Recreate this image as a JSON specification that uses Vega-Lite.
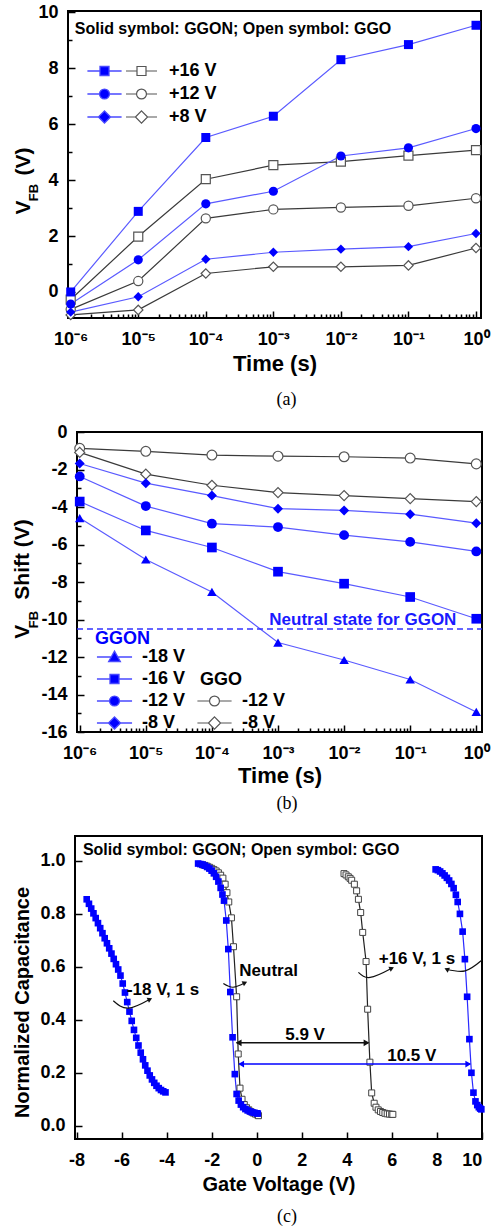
{
"$schema": "https://vega.github.io/schema/vega-lite/v6.json",
"padding": {"left": 11, "top": 2, "right": 0, "bottom": 0},
"datasets": {
"a": [
{"t":1e-6,"v":0.0,"film":"GGON","bias":"+16 V"},{"t":1e-5,"v":2.88,"film":"GGON","bias":"+16 V"},{"t":1e-4,"v":5.52,"film":"GGON","bias":"+16 V"},{"t":1e-3,"v":6.28,"film":"GGON","bias":"+16 V"},{"t":1e-2,"v":8.3,"film":"GGON","bias":"+16 V"},{"t":1e-1,"v":8.84,"film":"GGON","bias":"+16 V"},{"t":1,"v":9.53,"film":"GGON","bias":"+16 V"},
{"t":1e-6,"v":-0.27,"film":"GGO","bias":"+16 V"},{"t":1e-5,"v":1.98,"film":"GGO","bias":"+16 V"},{"t":1e-4,"v":4.03,"film":"GGO","bias":"+16 V"},{"t":1e-3,"v":4.53,"film":"GGO","bias":"+16 V"},{"t":1e-2,"v":4.66,"film":"GGO","bias":"+16 V"},{"t":1e-1,"v":4.87,"film":"GGO","bias":"+16 V"},{"t":1,"v":5.07,"film":"GGO","bias":"+16 V"},
{"t":1e-6,"v":-0.43,"film":"GGON","bias":"+12 V"},{"t":1e-5,"v":1.15,"film":"GGON","bias":"+12 V"},{"t":1e-4,"v":3.15,"film":"GGON","bias":"+12 V"},{"t":1e-3,"v":3.6,"film":"GGON","bias":"+12 V"},{"t":1e-2,"v":4.86,"film":"GGON","bias":"+12 V"},{"t":1e-1,"v":5.15,"film":"GGON","bias":"+12 V"},{"t":1,"v":5.84,"film":"GGON","bias":"+12 V"},
{"t":1e-6,"v":-0.62,"film":"GGO","bias":"+12 V"},{"t":1e-5,"v":0.39,"film":"GGO","bias":"+12 V"},{"t":1e-4,"v":2.63,"film":"GGO","bias":"+12 V"},{"t":1e-3,"v":2.95,"film":"GGO","bias":"+12 V"},{"t":1e-2,"v":3.02,"film":"GGO","bias":"+12 V"},{"t":1e-1,"v":3.08,"film":"GGO","bias":"+12 V"},{"t":1,"v":3.35,"film":"GGO","bias":"+12 V"},
{"t":1e-6,"v":-0.72,"film":"GGON","bias":"+8 V"},{"t":1e-5,"v":-0.17,"film":"GGON","bias":"+8 V"},{"t":1e-4,"v":1.17,"film":"GGON","bias":"+8 V"},{"t":1e-3,"v":1.42,"film":"GGON","bias":"+8 V"},{"t":1e-2,"v":1.53,"film":"GGON","bias":"+8 V"},{"t":1e-1,"v":1.62,"film":"GGON","bias":"+8 V"},{"t":1,"v":2.09,"film":"GGON","bias":"+8 V"},
{"t":1e-6,"v":-0.82,"film":"GGO","bias":"+8 V"},{"t":1e-5,"v":-0.64,"film":"GGO","bias":"+8 V"},{"t":1e-4,"v":0.66,"film":"GGO","bias":"+8 V"},{"t":1e-3,"v":0.9,"film":"GGO","bias":"+8 V"},{"t":1e-2,"v":0.9,"film":"GGO","bias":"+8 V"},{"t":1e-1,"v":0.95,"film":"GGO","bias":"+8 V"},{"t":1,"v":1.57,"film":"GGO","bias":"+8 V"}
],
"b": [
{"t":1e-6,"v":-0.87,"film":"GGO","bias":"-12 V"},{"t":1e-5,"v":-1.03,"film":"GGO","bias":"-12 V"},{"t":1e-4,"v":-1.23,"film":"GGO","bias":"-12 V"},{"t":1e-3,"v":-1.29,"film":"GGO","bias":"-12 V"},{"t":1e-2,"v":-1.32,"film":"GGO","bias":"-12 V"},{"t":1e-1,"v":-1.39,"film":"GGO","bias":"-12 V"},{"t":1,"v":-1.7,"film":"GGO","bias":"-12 V"},
{"t":1e-6,"v":-1.09,"film":"GGO","bias":"-8 V"},{"t":1e-5,"v":-2.25,"film":"GGO","bias":"-8 V"},{"t":1e-4,"v":-2.84,"film":"GGO","bias":"-8 V"},{"t":1e-3,"v":-3.23,"film":"GGO","bias":"-8 V"},{"t":1e-2,"v":-3.39,"film":"GGO","bias":"-8 V"},{"t":1e-1,"v":-3.55,"film":"GGO","bias":"-8 V"},{"t":1,"v":-3.71,"film":"GGO","bias":"-8 V"},
{"t":1e-6,"v":-1.68,"film":"GGON","bias":"-8 V"},{"t":1e-5,"v":-2.73,"film":"GGON","bias":"-8 V"},{"t":1e-4,"v":-3.39,"film":"GGON","bias":"-8 V"},{"t":1e-3,"v":-4.09,"film":"GGON","bias":"-8 V"},{"t":1e-2,"v":-4.18,"film":"GGON","bias":"-8 V"},{"t":1e-1,"v":-4.38,"film":"GGON","bias":"-8 V"},{"t":1,"v":-4.86,"film":"GGON","bias":"-8 V"},
{"t":1e-6,"v":-2.37,"film":"GGON","bias":"-12 V"},{"t":1e-5,"v":-3.95,"film":"GGON","bias":"-12 V"},{"t":1e-4,"v":-4.89,"film":"GGON","bias":"-12 V"},{"t":1e-3,"v":-5.07,"film":"GGON","bias":"-12 V"},{"t":1e-2,"v":-5.5,"film":"GGON","bias":"-12 V"},{"t":1e-1,"v":-5.86,"film":"GGON","bias":"-12 V"},{"t":1,"v":-6.37,"film":"GGON","bias":"-12 V"},
{"t":1e-6,"v":-3.71,"film":"GGON","bias":"-16 V"},{"t":1e-5,"v":-5.25,"film":"GGON","bias":"-16 V"},{"t":1e-4,"v":-6.16,"film":"GGON","bias":"-16 V"},{"t":1e-3,"v":-7.45,"film":"GGON","bias":"-16 V"},{"t":1e-2,"v":-8.09,"film":"GGON","bias":"-16 V"},{"t":1e-1,"v":-8.8,"film":"GGON","bias":"-16 V"},{"t":1,"v":-9.96,"film":"GGON","bias":"-16 V"},
{"t":1e-6,"v":-4.59,"film":"GGON","bias":"-18 V"},{"t":1e-5,"v":-6.8,"film":"GGON","bias":"-18 V"},{"t":1e-4,"v":-8.53,"film":"GGON","bias":"-18 V"},{"t":1e-3,"v":-11.23,"film":"GGON","bias":"-18 V"},{"t":1e-2,"v":-12.16,"film":"GGON","bias":"-18 V"},{"t":1e-1,"v":-13.2,"film":"GGON","bias":"-18 V"},{"t":1,"v":-14.93,"film":"GGON","bias":"-18 V"}
],
"c": [
{"vg":-7.55,"c":0.855,"film":"GGON","curve":"n18"},{"vg":-7.45,"c":0.838,"film":"GGON","curve":"n18"},{"vg":-7.35,"c":0.82,"film":"GGON","curve":"n18"},{"vg":-7.25,"c":0.802,"film":"GGON","curve":"n18"},{"vg":-7.15,"c":0.784,"film":"GGON","curve":"n18"},{"vg":-7.05,"c":0.765,"film":"GGON","curve":"n18"},{"vg":-6.95,"c":0.746,"film":"GGON","curve":"n18"},{"vg":-6.85,"c":0.727,"film":"GGON","curve":"n18"},{"vg":-6.75,"c":0.708,"film":"GGON","curve":"n18"},{"vg":-6.65,"c":0.689,"film":"GGON","curve":"n18"},{"vg":-6.55,"c":0.67,"film":"GGON","curve":"n18"},{"vg":-6.45,"c":0.65,"film":"GGON","curve":"n18"},{"vg":-6.35,"c":0.63,"film":"GGON","curve":"n18"},{"vg":-6.25,"c":0.61,"film":"GGON","curve":"n18"},{"vg":-6.15,"c":0.59,"film":"GGON","curve":"n18"},{"vg":-6.05,"c":0.567,"film":"GGON","curve":"n18"},{"vg":-5.95,"c":0.537,"film":"GGON","curve":"n18"},{"vg":-5.85,"c":0.503,"film":"GGON","curve":"n18"},{"vg":-5.75,"c":0.467,"film":"GGON","curve":"n18"},{"vg":-5.65,"c":0.431,"film":"GGON","curve":"n18"},{"vg":-5.55,"c":0.396,"film":"GGON","curve":"n18"},{"vg":-5.45,"c":0.362,"film":"GGON","curve":"n18"},{"vg":-5.35,"c":0.332,"film":"GGON","curve":"n18"},{"vg":-5.25,"c":0.303,"film":"GGON","curve":"n18"},{"vg":-5.15,"c":0.276,"film":"GGON","curve":"n18"},{"vg":-5.05,"c":0.251,"film":"GGON","curve":"n18"},{"vg":-4.95,"c":0.228,"film":"GGON","curve":"n18"},{"vg":-4.85,"c":0.208,"film":"GGON","curve":"n18"},{"vg":-4.75,"c":0.19,"film":"GGON","curve":"n18"},{"vg":-4.65,"c":0.175,"film":"GGON","curve":"n18"},{"vg":-4.55,"c":0.162,"film":"GGON","curve":"n18"},{"vg":-4.45,"c":0.151,"film":"GGON","curve":"n18"},{"vg":-4.35,"c":0.142,"film":"GGON","curve":"n18"},{"vg":-4.25,"c":0.135,"film":"GGON","curve":"n18"},{"vg":-4.15,"c":0.13,"film":"GGON","curve":"n18"},{"vg":-4.05,"c":0.126,"film":"GGON","curve":"n18"},
{"vg":-2.6,"c":0.99,"film":"GGON","curve":"n0on"},{"vg":-2.5,"c":0.988,"film":"GGON","curve":"n0on"},{"vg":-2.4,"c":0.986,"film":"GGON","curve":"n0on"},{"vg":-2.3,"c":0.982,"film":"GGON","curve":"n0on"},{"vg":-2.2,"c":0.977,"film":"GGON","curve":"n0on"},{"vg":-2.1,"c":0.971,"film":"GGON","curve":"n0on"},{"vg":-2.0,"c":0.963,"film":"GGON","curve":"n0on"},{"vg":-1.9,"c":0.953,"film":"GGON","curve":"n0on"},{"vg":-1.8,"c":0.94,"film":"GGON","curve":"n0on"},{"vg":-1.7,"c":0.922,"film":"GGON","curve":"n0on"},{"vg":-1.6,"c":0.898,"film":"GGON","curve":"n0on"},{"vg":-1.52,"c":0.873,"film":"GGON","curve":"n0on"},{"vg":-1.45,"c":0.85,"film":"GGON","curve":"n0on"},{"vg":-1.35,"c":0.775,"film":"GGON","curve":"n0on"},{"vg":-1.26,"c":0.667,"film":"GGON","curve":"n0on"},{"vg":-1.17,"c":0.505,"film":"GGON","curve":"n0on"},{"vg":-1.07,"c":0.334,"film":"GGON","curve":"n0on"},{"vg":-0.97,"c":0.195,"film":"GGON","curve":"n0on"},{"vg":-0.89,"c":0.12,"film":"GGON","curve":"n0on"},{"vg":-0.8,"c":0.095,"film":"GGON","curve":"n0on"},{"vg":-0.7,"c":0.08,"film":"GGON","curve":"n0on"},{"vg":-0.6,"c":0.07,"film":"GGON","curve":"n0on"},{"vg":-0.5,"c":0.063,"film":"GGON","curve":"n0on"},{"vg":-0.4,"c":0.058,"film":"GGON","curve":"n0on"},{"vg":-0.3,"c":0.054,"film":"GGON","curve":"n0on"},{"vg":-0.2,"c":0.051,"film":"GGON","curve":"n0on"},{"vg":-0.1,"c":0.049,"film":"GGON","curve":"n0on"},{"vg":0.0,"c":0.047,"film":"GGON","curve":"n0on"},{"vg":0.05,"c":0.046,"film":"GGON","curve":"n0on"},
{"vg":-2.4,"c":0.985,"film":"GGO","curve":"n0o"},{"vg":-2.3,"c":0.983,"film":"GGO","curve":"n0o"},{"vg":-2.2,"c":0.98,"film":"GGO","curve":"n0o"},{"vg":-2.1,"c":0.976,"film":"GGO","curve":"n0o"},{"vg":-2.0,"c":0.972,"film":"GGO","curve":"n0o"},{"vg":-1.9,"c":0.967,"film":"GGO","curve":"n0o"},{"vg":-1.8,"c":0.962,"film":"GGO","curve":"n0o"},{"vg":-1.7,"c":0.955,"film":"GGO","curve":"n0o"},{"vg":-1.6,"c":0.946,"film":"GGO","curve":"n0o"},{"vg":-1.5,"c":0.935,"film":"GGO","curve":"n0o"},{"vg":-1.4,"c":0.912,"film":"GGO","curve":"n0o"},{"vg":-1.32,"c":0.88,"film":"GGO","curve":"n0o"},{"vg":-1.24,"c":0.845,"film":"GGO","curve":"n0o"},{"vg":-1.12,"c":0.785,"film":"GGO","curve":"n0o"},{"vg":-1.03,"c":0.676,"film":"GGO","curve":"n0o"},{"vg":-0.89,"c":0.487,"film":"GGO","curve":"n0o"},{"vg":-0.82,"c":0.271,"film":"GGO","curve":"n0o"},{"vg":-0.74,"c":0.142,"film":"GGO","curve":"n0o"},{"vg":-0.65,"c":0.1,"film":"GGO","curve":"n0o"},{"vg":-0.55,"c":0.08,"film":"GGO","curve":"n0o"},{"vg":-0.45,"c":0.068,"film":"GGO","curve":"n0o"},{"vg":-0.35,"c":0.06,"film":"GGO","curve":"n0o"},{"vg":-0.25,"c":0.053,"film":"GGO","curve":"n0o"},{"vg":-0.15,"c":0.048,"film":"GGO","curve":"n0o"},{"vg":-0.05,"c":0.044,"film":"GGO","curve":"n0o"},{"vg":0.05,"c":0.04,"film":"GGO","curve":"n0o"},{"vg":0.08,"c":0.038,"film":"GGO","curve":"n0o"},
{"vg":3.88,"c":0.952,"film":"GGO","curve":"p16o"},{"vg":3.97,"c":0.947,"film":"GGO","curve":"p16o"},{"vg":4.07,"c":0.94,"film":"GGO","curve":"p16o"},{"vg":4.15,"c":0.934,"film":"GGO","curve":"p16o"},{"vg":4.22,"c":0.927,"film":"GGO","curve":"p16o"},{"vg":4.34,"c":0.912,"film":"GGO","curve":"p16o"},{"vg":4.44,"c":0.887,"film":"GGO","curve":"p16o"},{"vg":4.52,"c":0.855,"film":"GGO","curve":"p16o"},{"vg":4.62,"c":0.805,"film":"GGO","curve":"p16o"},{"vg":4.71,"c":0.73,"film":"GGO","curve":"p16o"},{"vg":4.86,"c":0.62,"film":"GGO","curve":"p16o"},{"vg":4.93,"c":0.44,"film":"GGO","curve":"p16o"},{"vg":5.03,"c":0.24,"film":"GGO","curve":"p16o"},{"vg":5.11,"c":0.124,"film":"GGO","curve":"p16o"},{"vg":5.22,"c":0.085,"film":"GGO","curve":"p16o"},{"vg":5.3,"c":0.07,"film":"GGO","curve":"p16o"},{"vg":5.4,"c":0.06,"film":"GGO","curve":"p16o"},{"vg":5.5,"c":0.054,"film":"GGO","curve":"p16o"},{"vg":5.6,"c":0.05,"film":"GGO","curve":"p16o"},{"vg":5.7,"c":0.047,"film":"GGO","curve":"p16o"},{"vg":5.8,"c":0.045,"film":"GGO","curve":"p16o"},{"vg":5.9,"c":0.044,"film":"GGO","curve":"p16o"},{"vg":6.0,"c":0.043,"film":"GGO","curve":"p16o"},{"vg":6.05,"c":0.043,"film":"GGO","curve":"p16o"},
{"vg":7.95,"c":0.968,"film":"GGON","curve":"p16on"},{"vg":8.05,"c":0.965,"film":"GGON","curve":"p16on"},{"vg":8.15,"c":0.96,"film":"GGON","curve":"p16on"},{"vg":8.25,"c":0.953,"film":"GGON","curve":"p16on"},{"vg":8.35,"c":0.945,"film":"GGON","curve":"p16on"},{"vg":8.45,"c":0.936,"film":"GGON","curve":"p16on"},{"vg":8.55,"c":0.926,"film":"GGON","curve":"p16on"},{"vg":8.65,"c":0.913,"film":"GGON","curve":"p16on"},{"vg":8.75,"c":0.897,"film":"GGON","curve":"p16on"},{"vg":8.85,"c":0.872,"film":"GGON","curve":"p16on"},{"vg":8.93,"c":0.845,"film":"GGON","curve":"p16on"},{"vg":9.03,"c":0.8,"film":"GGON","curve":"p16on"},{"vg":9.15,"c":0.733,"film":"GGON","curve":"p16on"},{"vg":9.25,"c":0.629,"film":"GGON","curve":"p16on"},{"vg":9.35,"c":0.487,"film":"GGON","curve":"p16on"},{"vg":9.45,"c":0.327,"film":"GGON","curve":"p16on"},{"vg":9.54,"c":0.2,"film":"GGON","curve":"p16on"},{"vg":9.63,"c":0.125,"film":"GGON","curve":"p16on"},{"vg":9.72,"c":0.092,"film":"GGON","curve":"p16on"},{"vg":9.8,"c":0.078,"film":"GGON","curve":"p16on"},{"vg":9.87,"c":0.07,"film":"GGON","curve":"p16on"},{"vg":9.93,"c":0.065,"film":"GGON","curve":"p16on"},{"vg":9.98,"c":0.062,"film":"GGON","curve":"p16on"}
],
"ctext": [
{"vg":-4.16,"c":0.513,"label":"-18 V, 1 s"},{"vg":0.53,"c":0.584,"label":"Neutral"},{"vg":7.12,"c":0.629,"label":"+16 V, 1 s"},{"vg":2.15,"c":0.342,"label":"5.9 V"},{"vg":6.89,"c":0.263,"label":"10.5 V"}
],
"dims": [
{"x1":-0.89,"x2":4.96,"c":0.313,"kind":"GGO"},{"x1":-0.77,"x2":9.48,"c":0.233,"kind":"GGON"}
],
"dimheads": [
{"vg":-0.8,"c":0.313,"dir":"left","kind":"GGO"},{"vg":4.88,"c":0.313,"dir":"right","kind":"GGO"},{"vg":-0.69,"c":0.233,"dir":"left","kind":"GGON"},{"vg":9.4,"c":0.233,"dir":"right","kind":"GGON"}
],
"arcs": [
{"arc":"a1","vg":-6.37,"c":0.472},{"arc":"a1","vg":-5.71,"c":0.444},{"arc":"a1","vg":-4.74,"c":0.478},
{"arc":"a2","vg":-1.48,"c":0.537},{"arc":"a2","vg":-1.05,"c":0.523},{"arc":"a2","vg":-0.52,"c":0.54},
{"arc":"a3","vg":4.52,"c":0.579},{"arc":"a3","vg":5.04,"c":0.56},{"arc":"a3","vg":6.0,"c":0.595},
{"arc":"a4","vg":8.44,"c":0.591},{"arc":"a4","vg":9.26,"c":0.585},{"arc":"a4","vg":10.0,"c":0.625}
],
"arctips": [
{"vg":-4.74,"c":0.478,"dir":"right"},{"vg":-0.52,"c":0.54,"dir":"right"},{"vg":6.0,"c":0.595,"dir":"right"},{"vg":8.44,"c":0.591,"dir":"left"}
]
},
"vconcat": [
{
"spacing": 13,
"vconcat": [
{
"width": 413, "height": 307,
"data": {"name": "a"},
"title": {"text": "(a)", "orient": "bottom", "frame": "group", "anchor": "middle", "dx": 12, "offset": 17, "font": "Liberation Serif", "fontSize": 18, "fontWeight": "normal", "color": "black"},
"resolve": {"scale": {"shape": "independent"}, "legend": {"shape": "independent"}, "axis": {"y": "independent"}},
"layer": [
{"transform": [{"filter": "datum.film === 'GGO'"}],
 "mark": {"type": "line", "color": "#3a3a3a", "strokeWidth": 1.2},
 "encoding": {
  "x": {"field": "t", "type": "quantitative", "scale": {"type": "log", "domain": [9.12e-7, 1.186], "nice": false},
   "axis": {"values": [1e-6,2e-6,3e-6,4e-6,5e-6,6e-6,7e-6,8e-6,9e-6,1e-5,2e-5,3e-5,4e-5,5e-5,6e-5,7e-5,8e-5,9e-5,1e-4,2e-4,3e-4,4e-4,5e-4,6e-4,7e-4,8e-4,9e-4,0.001,0.002,0.003,0.004,0.005,0.006,0.007,0.008,0.009,0.01,0.02,0.03,0.04,0.05,0.06,0.07,0.08,0.09,0.1,0.2,0.3,0.4,0.5,0.6,0.7,0.8,0.9,1],
    "labelExpr": "abs(log(datum.value)/LN10 - round(log(datum.value)/LN10)) < 0.001 ? '10' + ['⁻⁶','⁻⁵','⁻⁴','⁻³','⁻²','⁻¹','⁰'][round(log(datum.value)/LN10) + 6] : ''",
    "tickSize": {"condition": {"test": "abs(log(datum.value)/LN10 - round(log(datum.value)/LN10)) < 0.001", "value": -7}, "value": -4},
    "labelPadding": 19, "title": "Time (s)", "titleFontSize": 22, "titlePadding": 2}},
  "y": {"field": "v", "type": "quantitative", "scale": {"domain": [-0.93, 10.04], "nice": false, "zero": false},
   "axis": {"orient": "left", "values": [0,1,2,3,4,5,6,7,8,9,10], "labelExpr": "datum.value % 2 === 0 ? datum.label : ''",
    "tickSize": {"condition": {"test": "datum.value % 2 === 0", "value": -7}, "value": -4},
    "labelPadding": 17, "title": "V\u2003\u2009(V)", "titleFontSize": 21, "titleX": -39, "titleY": 169.5, "titleBaseline": "alphabetic", "titleAlign": "center", "titleAngle": 270}},
  "detail": {"field": "bias"}
 }},
{"transform": [{"filter": "datum.film === 'GGON'"}],
 "mark": {"type": "line", "color": "#5a5aff", "strokeWidth": 1.2},
 "encoding": {"x": {"field": "t", "type": "quantitative"}, "y": {"field": "v", "type": "quantitative", "axis": null}, "detail": {"field": "bias"}}},
{"transform": [{"filter": "datum.film === 'GGO'"}],
 "mark": {"type": "point", "filled": true, "fill": "white", "stroke": "#555555", "strokeWidth": 1.2, "opacity": 1},
 "encoding": {"x": {"field": "t", "type": "quantitative"}, "y": {"field": "v", "type": "quantitative", "axis": null},
  "shape": {"field": "bias", "type": "nominal", "scale": {"domain": ["+16 V","+12 V","+8 V"], "range": ["square","circle","diamond"]}, "legend": null},
  "size": {"field": "bias", "type": "ordinal", "scale": {"domain": ["+16 V","+12 V","+8 V"], "range": [81,100,150]}, "legend": null}}},
{"transform": [{"filter": "datum.film === 'GGON'"}],
 "mark": {"type": "point", "filled": true, "color": "#0000ff", "opacity": 1},
 "encoding": {"x": {"field": "t", "type": "quantitative"}, "y": {"field": "v", "type": "quantitative", "axis": null},
  "shape": {"field": "bias", "type": "nominal", "scale": {"domain": ["+16 V","+12 V","+8 V"], "range": ["square","circle","diamond"]}, "legend": null},
  "size": {"field": "bias", "type": "ordinal", "scale": {"domain": ["+16 V","+12 V","+8 V"], "range": [81,100,150]}, "legend": null}}},
{"transform": [{"filter": "false"}],
 "mark": {"type": "point", "filled": true, "fill": "#0000ff", "stroke": "#4a4aff", "strokeWidth": 1.3, "opacity": 1},
 "encoding": {"x": {"field": "t", "type": "quantitative"}, "y": {"field": "v", "type": "quantitative", "axis": null},
  "shape": {"field": "bias", "type": "nominal", "scale": {"domain": ["+16 V","+12 V","+8 V"], "range": ["M-3.8,0H-1M1,0H3.8M-1,-1H1V1H-1Z","M-3.8,0H-1.1M1.1,0H3.8M1.1,0A1.1,1.1,0,1,1,-1.1,0A1.1,1.1,0,1,1,1.1,0Z","M-3.8,0H-1.35M1.35,0H3.8M0,-1.35L1.35,0L0,1.35L-1.35,0Z"]},
   "legend": {"orient": "none", "legendX": 27.5, "legendY": 51, "title": null, "symbolSize": 81, "labelExpr": "''", "gridAlign": "all", "rowPadding": 5, "symbolStrokeWidth": 1.3}}}},
{"transform": [{"filter": "false"}],
 "mark": {"type": "point", "filled": true, "fill": "white", "stroke": "#555555", "strokeWidth": 1.2, "opacity": 1},
 "encoding": {"x": {"field": "t", "type": "quantitative"}, "y": {"field": "v", "type": "quantitative", "axis": null},
  "shape": {"field": "bias", "type": "nominal", "scale": {"domain": ["+16 V","+12 V","+8 V"], "range": ["M-3.45,0H-1M1,0H3.45M-1,-1H1V1H-1Z","M-3.45,0H-1.1M1.1,0H3.45M1.1,0A1.1,1.1,0,1,1,-1.1,0A1.1,1.1,0,1,1,1.1,0Z","M-3.45,0H-1.35M1.35,0H3.45M0,-1.35L1.35,0L0,1.35L-1.35,0Z"]},
   "legend": {"orient": "none", "legendX": 64.5, "legendY": 51, "title": null, "symbolSize": 81, "labelOffset": 18.5, "gridAlign": "all", "rowPadding": 5, "symbolStrokeWidth": 1.2}}}},
{"data": {"values": [{"label": "Solid symbol: GGON; Open symbol: GGO"}]},
 "mark": {"type": "text", "align": "left", "baseline": "middle", "fontSize": 16, "fontWeight": "bold", "font": "Liberation Sans", "color": "black"},
 "encoding": {"x": {"datum": 1.15e-6, "type": "quantitative"},
  "y": {"datum": 9.39, "type": "quantitative", "axis": {"orient": "left", "title": "FB", "titleFontSize": 13, "titleX": -31, "titleY": 181, "titleBaseline": "alphabetic", "titleAlign": "center", "titleAngle": 270, "domain": false, "ticks": false, "labels": false, "grid": false}},
  "text": {"field": "label"}}}
]
},
{
"width": 414, "height": 300,
"view": {"stroke": null},
"data": {"name": "b"},
"title": {"text": "(b)", "orient": "bottom", "frame": "group", "anchor": "middle", "dx": 12, "offset": 9, "font": "Liberation Serif", "fontSize": 18, "fontWeight": "normal", "color": "black"},
"resolve": {"scale": {"shape": "independent"}, "legend": {"shape": "independent"}, "axis": {"y": "independent"}},
"layer": [
{"data": {"values": [{"frame": "plot area"}]},
 "mark": {"type": "rect", "fill": "transparent", "stroke": "black", "strokeWidth": 2},
 "encoding": {
  "x": {"datum": 9.1e-7, "type": "quantitative", "scale": {"type": "log", "domain": [9.1e-7, 1.22], "nice": false, "rangeMin": 9},
   "axis": {"values": [1e-6,2e-6,3e-6,4e-6,5e-6,6e-6,7e-6,8e-6,9e-6,1e-5,2e-5,3e-5,4e-5,5e-5,6e-5,7e-5,8e-5,9e-5,1e-4,2e-4,3e-4,4e-4,5e-4,6e-4,7e-4,8e-4,9e-4,0.001,0.002,0.003,0.004,0.005,0.006,0.007,0.008,0.009,0.01,0.02,0.03,0.04,0.05,0.06,0.07,0.08,0.09,0.1,0.2,0.3,0.4,0.5,0.6,0.7,0.8,0.9,1],
    "labelExpr": "abs(log(datum.value)/LN10 - round(log(datum.value)/LN10)) < 0.001 ? '10' + ['⁻⁶','⁻⁵','⁻⁴','⁻³','⁻²','⁻¹','⁰'][round(log(datum.value)/LN10) + 6] : ''",
    "tickSize": {"condition": {"test": "abs(log(datum.value)/LN10 - round(log(datum.value)/LN10)) < 0.001", "value": -7}, "value": -4},
    "labelPadding": 19, "title": "Time (s)", "titleFontSize": 22, "titlePadding": 0}},
  "x2": {"datum": 1.22},
  "y": {"datum": -16, "type": "quantitative", "scale": {"domain": [-16, 0], "nice": false, "zero": false},
   "axis": {"orient": "left", "offset": -9, "values": [-16,-15,-14,-13,-12,-11,-10,-9,-8,-7,-6,-5,-4,-3,-2,-1,0], "labelExpr": "datum.value % 2 === 0 ? toString(datum.value) : ''",
    "tickSize": {"condition": {"test": "datum.value % 2 === 0", "value": -7}, "value": -4},
    "labelPadding": 17, "title": "V\u2003\u2009Shift (V)", "titleFontSize": 21, "titleX": -49, "titleY": 146.5, "titleBaseline": "alphabetic", "titleAlign": "center", "titleAngle": 270}},
  "y2": {"datum": 0}
 }},
{"transform": [{"filter": "datum.film === 'GGO'"}],
 "mark": {"type": "line", "color": "#3a3a3a", "strokeWidth": 1.2},
 "encoding": {"x": {"field": "t", "type": "quantitative"}, "y": {"field": "v", "type": "quantitative", "axis": null}, "detail": {"field": "bias"}}},
{"transform": [{"filter": "datum.film === 'GGON'"}],
 "mark": {"type": "line", "color": "#5a5aff", "strokeWidth": 1.2},
 "encoding": {"x": {"field": "t", "type": "quantitative"}, "y": {"field": "v", "type": "quantitative", "axis": null}, "detail": {"field": "bias"}}},
{"data": {"values": [{"label": "Neutral state for GGON"}]},
 "mark": {"type": "rule", "color": "#3333ff", "strokeWidth": 1.5, "strokeDash": [6, 4]},
 "encoding": {"x": {"datum": 9.1e-7, "type": "quantitative"}, "x2": {"datum": 1.22}, "y": {"datum": -10.5, "type": "quantitative", "axis": null}}},
{"transform": [{"filter": "datum.film === 'GGO'"}],
 "mark": {"type": "point", "filled": true, "fill": "white", "stroke": "#555555", "strokeWidth": 1.2, "opacity": 1},
 "encoding": {"x": {"field": "t", "type": "quantitative"}, "y": {"field": "v", "type": "quantitative", "axis": null},
  "shape": {"field": "bias", "type": "nominal", "scale": {"domain": ["-12 V","-8 V"], "range": ["circle","diamond"]}, "legend": null},
  "size": {"field": "bias", "type": "ordinal", "scale": {"domain": ["-18 V","-16 V","-12 V","-8 V"], "range": [121,81,100,150]}, "legend": null}}},
{"transform": [{"filter": "datum.film === 'GGON'"}],
 "mark": {"type": "point", "filled": true, "color": "#0000ff", "opacity": 1},
 "encoding": {"x": {"field": "t", "type": "quantitative"}, "y": {"field": "v", "type": "quantitative", "axis": null},
  "shape": {"field": "bias", "type": "nominal", "scale": {"domain": ["-18 V","-16 V","-12 V","-8 V"], "range": ["triangle-up","square","circle","diamond"]}, "legend": null},
  "size": {"field": "bias", "type": "ordinal", "scale": {"domain": ["-18 V","-16 V","-12 V","-8 V"], "range": [121,81,100,150]}, "legend": null}}},
{"transform": [{"filter": "false"}],
 "mark": {"type": "point", "filled": true, "fill": "#0000ff", "stroke": "#4a4aff", "strokeWidth": 1.3, "opacity": 1},
 "encoding": {"x": {"field": "t", "type": "quantitative"}, "y": {"field": "v", "type": "quantitative", "axis": null},
  "shape": {"field": "bias", "type": "nominal", "scale": {"domain": ["-18 V","-16 V","-12 V","-8 V"], "range": ["M-3.9,0H-0.6M0.6,0H3.9M0,-1.3L1.3,1L-1.3,1Z","M-3.9,0H-1M1,0H3.9M-1,-1H1V1H-1Z","M-3.9,0H-1.1M1.1,0H3.9M1.1,0A1.1,1.1,0,1,1,-1.1,0A1.1,1.1,0,1,1,1.1,0Z","M-3.9,0H-1.35M1.35,0H3.9M0,-1.35L1.35,0L0,1.35L-1.35,0Z"]},
   "legend": {"orient": "none", "legendX": 27, "legendY": 198, "title": "GGON", "titleColor": "#0000ff", "titlePadding": 0, "symbolOffset": 10.5, "symbolSize": 81, "labelOffset": 18.5, "rowPadding": 4, "symbolStrokeWidth": 1.3}}}},
{"transform": [{"filter": "false"}],
 "mark": {"type": "point", "filled": true, "fill": "white", "stroke": "#555555", "strokeWidth": 1.2, "opacity": 1},
 "encoding": {"x": {"field": "t", "type": "quantitative"}, "y": {"field": "v", "type": "quantitative", "axis": null},
  "shape": {"field": "bias", "type": "nominal", "scale": {"domain": ["-12 V","-8 V"], "range": ["M-3.8,0H-1.1M1.1,0H3.8M1.1,0A1.1,1.1,0,1,1,-1.1,0A1.1,1.1,0,1,1,1.1,0Z","M-3.8,0H-1.35M1.35,0H3.8M0,-1.35L1.35,0L0,1.35L-1.35,0Z"]},
   "legend": {"orient": "none", "legendX": 132, "legendY": 239, "title": "GGO", "titleColor": "black", "titlePadding": 3, "symbolOffset": 5.5, "symbolSize": 81, "labelOffset": 18.5, "rowPadding": 4, "symbolStrokeWidth": 1.2}}}},
{"data": {"values": [{"label": "Neutral state for GGON"}]},
 "mark": {"type": "text", "align": "right", "baseline": "middle", "fontSize": 17, "fontWeight": "bold", "font": "Liberation Sans", "color": "#1a1aff"},
 "encoding": {"x": {"datum": 0.5, "type": "quantitative"},
  "y": {"datum": -10.02, "type": "quantitative", "axis": {"orient": "left", "offset": -9, "title": "FB", "titleFontSize": 13, "titleX": -40, "titleY": 187, "titleBaseline": "alphabetic", "titleAlign": "center", "titleAngle": 270, "domain": false, "ticks": false, "labels": false, "grid": false}},
  "text": {"field": "label"}}}
]
}
]
},
{
"width": 414, "height": 303,
"view": {"stroke": null},
"data": {"name": "c"},
"title": {"text": "(c)", "orient": "bottom", "frame": "group", "anchor": "middle", "dx": 12, "offset": 14, "font": "Liberation Serif", "fontSize": 18, "fontWeight": "normal", "color": "black"},
"layer": [
{"data": {"values": [{"frame": "plot area"}]},
 "mark": {"type": "rect", "fill": "transparent", "stroke": "black", "strokeWidth": 2},
 "encoding": {
  "x": {"datum": -8.07, "type": "quantitative", "scale": {"domain": [-8.07, 10.01], "nice": false, "zero": false, "rangeMin": 7},
   "axis": {"values": [-8,-7,-6,-5,-4,-3,-2,-1,0,1,2,3,4,5,6,7,8,9,10], "labelExpr": "datum.value % 2 === 0 ? toString(datum.value) : ''",
    "tickSize": {"condition": {"test": "datum.value % 2 === 0", "value": -7}, "value": -4},
    "labelPadding": 19, "title": "Gate Voltage (V)", "titlePadding": 5}},
  "x2": {"datum": 10.01},
  "y": {"datum": -0.05, "type": "quantitative", "scale": {"domain": [-0.05, 1.094], "nice": false, "zero": false},
   "axis": {"offset": -7, "values": [0,0.1,0.2,0.3,0.4,0.5,0.6,0.7,0.8,0.9,1.0], "labelExpr": "abs(datum.value*5 - round(datum.value*5)) < 0.01 ? format(datum.value, '.1f') : ''",
    "tickSize": {"condition": {"test": "abs(datum.value*5 - round(datum.value*5)) < 0.01", "value": -7}, "value": -4},
    "labelPadding": 17, "title": "Normalized Capacitance", "titleX": -47, "titleY": 166, "titleBaseline": "alphabetic", "titleAlign": "center", "titleAngle": 270}},
  "y2": {"datum": 1.094}
 }},
{"transform": [{"filter": "datum.film === 'GGO'"}],
 "mark": {"type": "line", "color": "#222222", "strokeWidth": 1.2},
 "encoding": {"x": {"field": "vg", "type": "quantitative"}, "y": {"field": "c", "type": "quantitative"}, "detail": {"field": "curve"}}},
{"transform": [{"filter": "datum.film === 'GGON'"}],
 "mark": {"type": "line", "color": "#2a2aff", "strokeWidth": 1.2},
 "encoding": {"x": {"field": "vg", "type": "quantitative"}, "y": {"field": "c", "type": "quantitative"}, "detail": {"field": "curve"}}},
{"transform": [{"filter": "datum.film === 'GGO'"}],
 "mark": {"type": "point", "shape": "square", "filled": true, "fill": "white", "stroke": "#444444", "strokeWidth": 1, "size": 36, "opacity": 1},
 "encoding": {"x": {"field": "vg", "type": "quantitative"}, "y": {"field": "c", "type": "quantitative"}}},
{"transform": [{"filter": "datum.film === 'GGON'"}],
 "mark": {"type": "point", "shape": "square", "filled": true, "color": "#0000ff", "size": 44, "opacity": 1},
 "encoding": {"x": {"field": "vg", "type": "quantitative"}, "y": {"field": "c", "type": "quantitative"}}},
{"data": {"name": "dims"},
 "mark": {"type": "rule", "strokeWidth": 1.5},
 "encoding": {"x": {"field": "x1", "type": "quantitative"}, "x2": {"field": "x2"}, "y": {"field": "c", "type": "quantitative"},
  "color": {"field": "kind", "type": "nominal", "scale": {"domain": ["GGO", "GGON"], "range": ["#111111", "#0000ff"]}, "legend": null}}},
{"data": {"name": "dimheads"},
 "transform": [{"filter": "datum.dir === 'left'"}],
 "mark": {"type": "point", "shape": "triangle-left", "filled": true, "size": 45, "opacity": 1},
 "encoding": {"x": {"field": "vg", "type": "quantitative"}, "y": {"field": "c", "type": "quantitative"},
  "color": {"field": "kind", "type": "nominal", "legend": null}}},
{"data": {"name": "dimheads"},
 "transform": [{"filter": "datum.dir === 'right'"}],
 "mark": {"type": "point", "shape": "triangle-right", "filled": true, "size": 45, "opacity": 1},
 "encoding": {"x": {"field": "vg", "type": "quantitative"}, "y": {"field": "c", "type": "quantitative"},
  "color": {"field": "kind", "type": "nominal", "legend": null}}},
{"data": {"name": "arcs"},
 "mark": {"type": "line", "interpolate": "natural", "color": "#111111", "strokeWidth": 1.2},
 "encoding": {"x": {"field": "vg", "type": "quantitative"}, "y": {"field": "c", "type": "quantitative"}, "detail": {"field": "arc"}}},
{"data": {"name": "arctips"},
 "transform": [{"filter": "datum.dir === 'right'"}],
 "mark": {"type": "point", "shape": "triangle-right", "filled": true, "color": "#111111", "size": 30, "angle": -25, "opacity": 1},
 "encoding": {"x": {"field": "vg", "type": "quantitative"}, "y": {"field": "c", "type": "quantitative"}}},
{"data": {"name": "arctips"},
 "transform": [{"filter": "datum.dir === 'left'"}],
 "mark": {"type": "point", "shape": "triangle-left", "filled": true, "color": "#111111", "size": 30, "angle": 25, "opacity": 1},
 "encoding": {"x": {"field": "vg", "type": "quantitative"}, "y": {"field": "c", "type": "quantitative"}}},
{"data": {"name": "ctext"},
 "mark": {"type": "text", "align": "center", "baseline": "middle", "fontSize": 17, "fontWeight": "bold", "font": "Liberation Sans", "color": "black"},
 "encoding": {"x": {"field": "vg", "type": "quantitative"}, "y": {"field": "c", "type": "quantitative"}, "text": {"field": "label"}}},
{"data": {"values": [{"label": "Solid symbol: GGON; Open symbol: GGO"}]},
 "mark": {"type": "text", "align": "left", "baseline": "middle", "fontSize": 16, "fontWeight": "bold", "font": "Liberation Sans", "color": "black"},
 "encoding": {"x": {"datum": -7.72, "type": "quantitative"}, "y": {"datum": 1.04, "type": "quantitative"}, "text": {"field": "label"}}}
]
}
],
"spacing": 22,
"config": {
"font": "Liberation Sans",
"view": {"stroke": "black", "strokeWidth": 2},
"axis": {"domain": false, "grid": false, "labelFont": "Liberation Sans", "labelFontWeight": "bold", "labelFontSize": 18, "labelColor": "black", "titleFont": "Liberation Sans", "titleFontWeight": "bold", "titleFontSize": 20, "titleColor": "black", "tickColor": "black", "tickWidth": 1.5, "labelOverlap": false},
"legend": {"padding": 0, "labelFont": "Liberation Sans", "labelFontWeight": "bold", "labelFontSize": 18, "labelColor": "black", "titleFont": "Liberation Sans", "titleFontWeight": "bold", "titleFontSize": 18, "titleColor": "black"},
"point": {"opacity": 1},
"text": {"font": "Liberation Sans", "fontWeight": "bold", "color": "black"}
}
}
